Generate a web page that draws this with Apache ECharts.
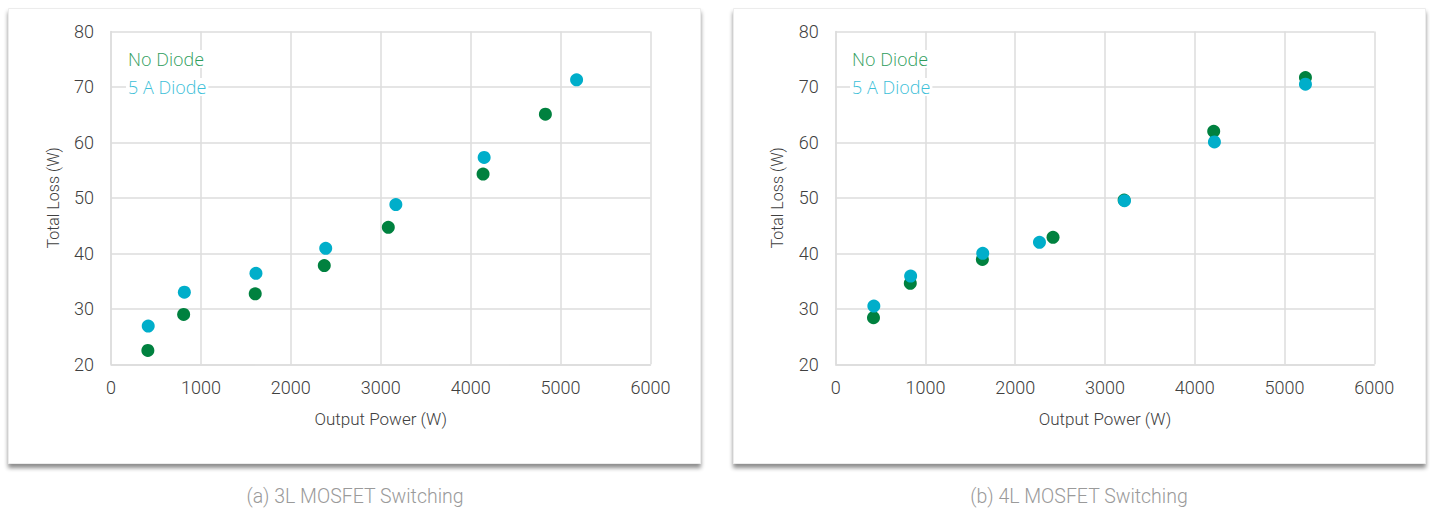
<!DOCTYPE html>
<html>
<head>
<meta charset="utf-8">
<script src="https://cdn.jsdelivr.net/npm/echarts@6/dist/echarts.min.js"></script>
<style>
html,body{margin:0;padding:0;background:#fff;}
#c{width:1430px;height:512px;}
</style>
</head>
<body>
<div id="c"></div>
<script>
// ---- data ----
const seriesNames = ['No Diode', '5 A Diode'];
const captions = ['(a) 3L MOSFET Switching', '(b) 4L MOSFET Switching'];
const xAxisName = 'Output Power (W)';
const yAxisName = 'Total Loss (W)';
const xRange = [0, 6000, 1000];
const yRange = [20, 80, 10];

// (a) 3L MOSFET Switching
const aNoDiodeX = [410, 808, 1604, 2372, 3084, 4138, 4831];
const aNoDiodeY = [22.5, 29.0, 32.7, 37.8, 44.7, 54.3, 65.1];
const aDiodeX   = [414, 816, 1612, 2388, 3168, 4150, 5178];
const aDiodeY   = [26.9, 33.0, 36.4, 40.9, 48.8, 57.3, 71.3];
// (b) 4L MOSFET Switching
const bNoDiodeX = [421, 831, 1634, 2421, 3213, 4211, 5233];
const bNoDiodeY = [28.4, 34.6, 38.9, 42.9, 49.6, 62.0, 71.7];
const bDiodeX   = [425, 835, 1638, 2270, 3217, 4219, 5233];
const bDiodeY   = [30.5, 35.9, 40.0, 42.0, 49.5, 60.1, 70.5];

// ---- styling ----
const markerColors = ['#00813F', '#00AECA'];
const legendColors = ['#2E9D5C', '#3CC0D8'];
const gridColor = '#DCDCDC';
const textColor = '#404040';
const font = 'Roboto';
const legendFont = 'Open Sans';

const pair = (xs, ys) => xs.map((x, i) => [x, ys[i]]);

const grids = [
  {left: 111, top: 31.5, width: 539.5, height: 332.8},
  {left: 835.7, top: 31.5, width: 538.6, height: 332.8}
];

function xAxis(i) {
  return {
    type: 'value', gridIndex: i, min: xRange[0], max: xRange[1], interval: xRange[2],
    name: xAxisName, nameLocation: 'middle', nameGap: 46,
    nameTextStyle: {color: textColor, fontFamily: font, fontSize: 17, fontWeight: 300},
    axisLine: {show: true, lineStyle: {color: gridColor, width: 1.5}},
    axisTick: {show: false},
    axisLabel: {color: textColor, fontFamily: font, fontSize: 18, fontWeight: 300, margin: 14,
                formatter: v => String(v)},
    splitLine: {show: true, lineStyle: {color: gridColor, width: 1.5}}
  };
}
function yAxis(i) {
  return {
    type: 'value', gridIndex: i, min: yRange[0], max: yRange[1], interval: yRange[2],
    name: yAxisName, nameLocation: 'middle', nameGap: 50, nameRotate: 90,
    nameTextStyle: {color: textColor, fontFamily: font, fontSize: 16, fontWeight: 300},
    axisLine: {show: true, lineStyle: {color: gridColor, width: 1.5}},
    axisTick: {show: false},
    axisLabel: {color: textColor, fontFamily: font, fontSize: 18, fontWeight: 300, margin: 17,
                formatter: v => String(v)},
    splitLine: {show: true, lineStyle: {color: gridColor, width: 1.5}}
  };
}
function scatter(name, data, gi, ci) {
  return {
    type: 'scatter', name: name, xAxisIndex: gi, yAxisIndex: gi,
    data: data, symbolSize: 13, itemStyle: {color: markerColors[ci], opacity: 1},
    z: 3 + ci
  };
}
function legend(leftPx) {
  return {
    orient: 'vertical', left: leftPx, top: 50, icon: 'none',
    itemWidth: 0, itemHeight: 18, itemGap: 10, padding: 0,
    selectedMode: false,
    data: seriesNames.map((n, i) => ({
      name: n,
      textStyle: {color: legendColors[i], fontFamily: legendFont, fontSize: 18, fontWeight: 300,
                  backgroundColor: '#fff', padding: [0, 2]}
    }))
  };
}

function card(x) {
  return {
    type: 'rect', left: x, top: 8, z: -10, silent: true,
    shape: {width: 692, height: 455},
    style: {fill: '#fff', stroke: '#ececec', lineWidth: 1,
            shadowBlur: 4, shadowOffsetY: 4, shadowColor: 'rgba(0,0,0,0.45)'}
  };
}
function caption(cx, txt) {
  return {
    type: 'text', x: cx, y: 486, z: 10, silent: true,
    style: {text: txt, fill: '#9A9A9A', font: '300 19.5px ' + font, textAlign: 'center', textVerticalAlign: 'top'}
  };
}

const chart = echarts.init(document.getElementById('c'), null, {renderer: 'svg'});
chart.setOption({
  animation: false,
  backgroundColor: '#fff',
  grid: grids,
  xAxis: [xAxis(0), xAxis(1)],
  yAxis: [yAxis(0), yAxis(1)],
  legend: [legend(121), legend(845)],
  graphic: [
    card(8), card(733),
    caption(355, captions[0]),
    caption(1079, captions[1])
  ],
  series: [
    scatter(seriesNames[0], pair(aNoDiodeX, aNoDiodeY), 0, 0),
    scatter(seriesNames[1], pair(aDiodeX, aDiodeY), 0, 1),
    scatter(seriesNames[0], pair(bNoDiodeX, bNoDiodeY), 1, 0),
    scatter(seriesNames[1], pair(bDiodeX, bDiodeY), 1, 1)
  ]
});
</script>
</body>
</html>
